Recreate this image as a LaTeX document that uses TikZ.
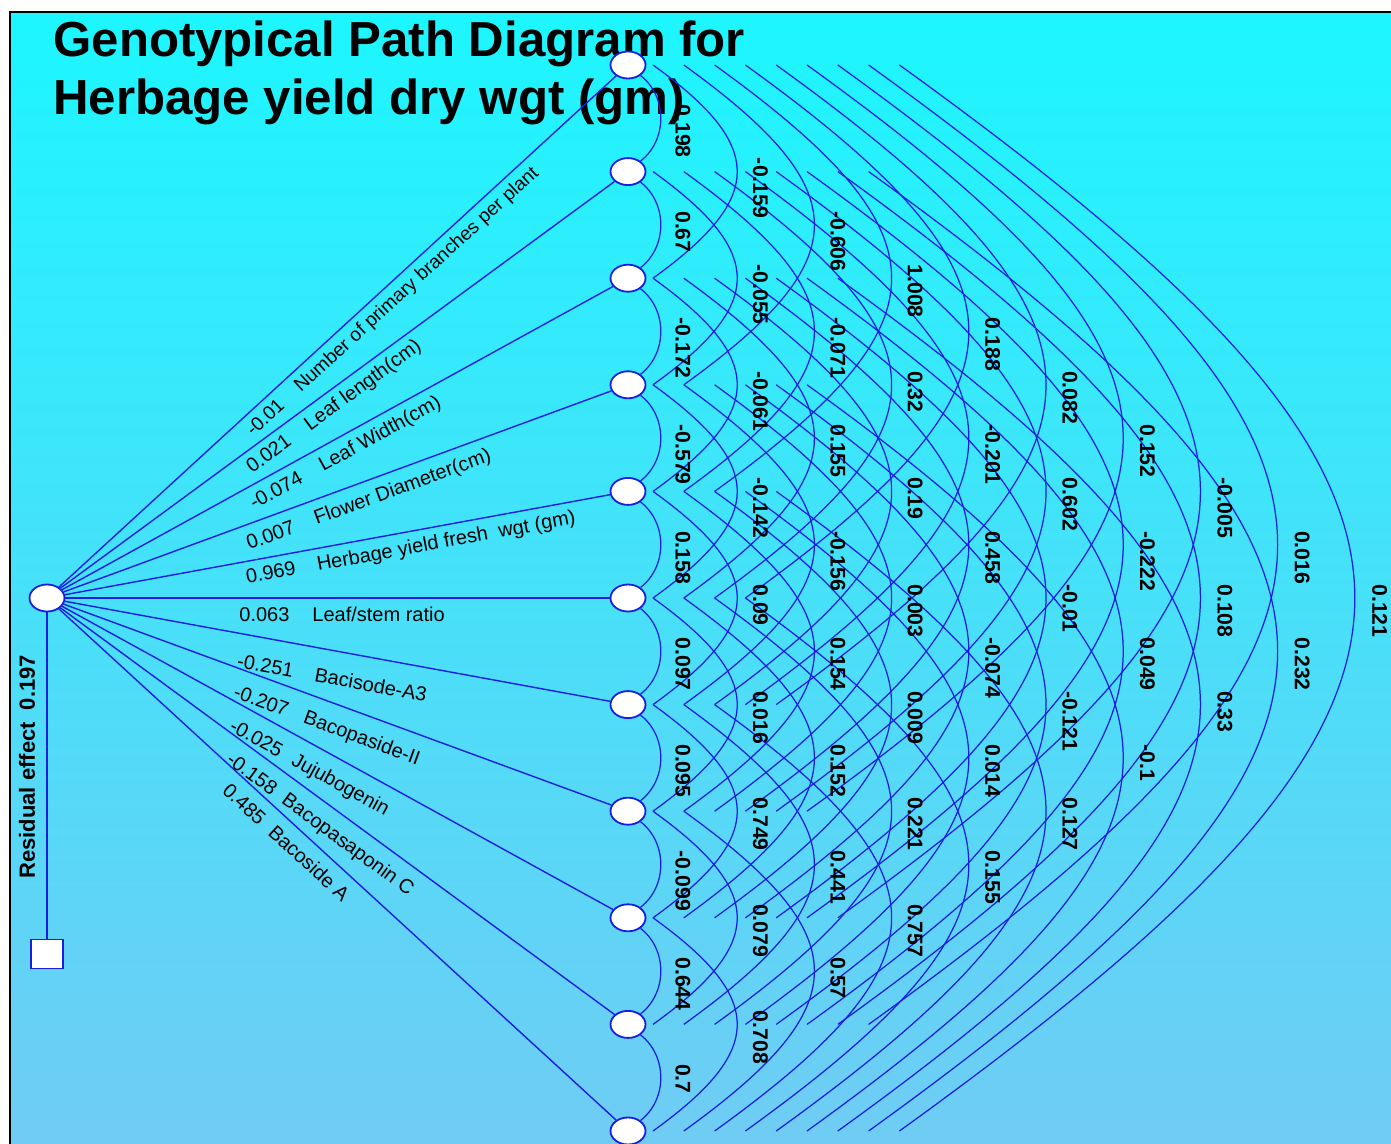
\documentclass[tikz,border=0pt]{standalone}
\usepackage{fontspec}
\setmainfont{Liberation Sans}
\usetikzlibrary{shapes.geometric}
\definecolor{lineblue}{RGB}{22,30,225}
\definecolor{bgtop}{RGB}{28,246,255}
\definecolor{bgmid}{RGB}{60,208,248}
\definecolor{bgbot}{RGB}{112,204,244}
\pgfdeclarelayer{back}
\pgfdeclarelayer{mid}
\pgfsetlayers{back,mid,main}
\newcommand\corrcol[2]{%
  \foreach \v [count=\i] in {#2} {%
    \node[corr] (c-#1-\i) at ({683+77.4*(#1-1)},{65+106.6*(\i-1)+53.3*#1-14}) {\v};
  }%
}
\begin{document}
\begin{tikzpicture}[x=0.5pt,y=-0.5pt,
  ell/.style={ellipse, draw=lineblue, line width=0.9pt, fill=white, minimum width=17.5pt, minimum height=13.5pt, inner sep=0pt},
  sq/.style={rectangle, draw=lineblue, line width=0.9pt, fill=white, minimum width=16pt, minimum height=14.5pt, inner sep=0pt},
  fan/.style={draw=lineblue, line width=0.7pt},
  arcline/.style={draw=lineblue, line width=0.62pt},
  corr/.style={font=\bfseries\fontsize{10.6}{12}\selectfont, rotate=-90, anchor=west, inner sep=0pt},
  lab/.style={font=\fontsize{10}{12}\selectfont, anchor=base west, inner sep=0pt},
  ttl/.style={font=\bfseries\fontsize{24.6}{29}\selectfont, anchor=base west, inner sep=0pt}]

\useasboundingbox (0,0) rectangle (1391,1144);

% nodes
\foreach \k in {1,...,11} \node[ell] (E\k) at (628,{65+106.6*(\k-1)}) {};
\node[ell] (L) at (47,598) {};
\node[sq] (R) at (47,954) {};

% free ends of the correlation arcs
\foreach \k in {1,...,11} {
  \foreach \d in {2,...,10} {
    \coordinate (P-\k-\d) at ({653+30.8*(\d-2)},{65+106.6*(\k-1)});
  }
}

% direct effect labels
\node[lab, rotate=42.5, font=\fontsize{9.6}{12}\selectfont] (n1) at (253,437) {-0.01\hspace{1.1em}Number of primary branches per plant};
\node[lab, rotate=36.3]  (n2)  at (252,474) {0.021\hspace{1.1em}Leaf length(cm)};
\node[lab, rotate=28.8]  (n3)  at (254,510) {-0.074\hspace{1.1em}Leaf Width(cm)};
\node[lab, rotate=20.2]  (n4)  at (249,550) {0.007\hspace{1.1em}Flower Diameter(cm)};
\node[lab, rotate=10.4]  (n5)  at (247,584) {0.969\hspace{1.1em}Herbage yield fresh\ \ wgt (gm)};
\node[lab]               (n6)  at (239,621) {0.063\hspace{1.15em}Leaf/stem ratio};
\node[lab, rotate=-10.4] (n7)  at (236,667) {-0.251\hspace{1.1em}Bacisode-A3};
\node[lab, rotate=-20.2] (n8)  at (232,697) {-0.207\hspace{0.9em}Bacopaside-II};
\node[lab, rotate=-28.8] (n9)  at (228,730) {-0.025\hspace{0.7em}Jujubogenin};
\node[lab, rotate=-36.3] (n10) at (225,762) {-0.158\hspace{0.6em}Bacopasaponin C};
\node[lab, rotate=-42.5] (n11) at (221,792) {0.485\hspace{0.6em}Bacoside A};

\node[font=\bfseries\fontsize{11}{13}\selectfont, rotate=90, anchor=west, inner sep=0pt] (res) at (27,879) {Residual effect\hspace{0.55em}0.197};

% correlation labels
\corrcol{1}{0.198,0.67,-0.172,-0.579,0.158,0.097,0.095,-0.099,0.644,0.7}
\corrcol{2}{-0.159,-0.055,-0.061,-0.142,0.09,0.016,0.749,0.079,0.708}
\corrcol{3}{-0.606,-0.071,0.155,-0.156,0.154,0.152,0.441,0.57}
\corrcol{4}{1.008,0.32,0.19,0.003,0.009,0.221,0.757}
\corrcol{5}{0.188,-0.201,0.458,-0.074,0.014,0.155}
\corrcol{6}{0.082,0.602,-0.01,-0.121,0.127}
\corrcol{7}{0.152,-0.222,0.049,-0.1}
\corrcol{8}{-0.005,0.108,0.33}
\corrcol{9}{0.016,0.232}
\corrcol{10}{0.121}

\begin{pgfonlayer}{back}
  \fill[white] (0,0) rectangle (1391,1144);
  \shade[top color=bgtop, middle color=bgmid, bottom color=bgbot] (10,12) rectangle (1391,1144);
  \draw[black, line width=1pt] (10,1144) -- (10,12) -- (1391,12);
  \node[ttl] (t1) at (53,57) {Genotypical Path Diagram for};
  \node[ttl] (t2) at (53,115) {Herbage yield dry wgt (gm)};
\end{pgfonlayer}

\begin{pgfonlayer}{mid}
  \foreach \k in {1,...,11} \draw[fan] (L) -- (E\k);
  \draw[fan] (L) -- (R);
  % adjacent arcs
  \foreach \i in {1,...,10} {
    \pgfmathtruncatemacro\j{\i+1}
    \draw[arcline] (E\i.-40) .. controls +(27,21) and +(27,-21) .. (E\j.40);
  }
  % longer arcs
  \foreach \d in {2,...,10} {
    \pgfmathsetmacro\xs{653+30.8*(\d-2)}
    \pgfmathsetmacro\ap{660+77.2*(\d-1)}
    \pgfmathsetmacro\ca{(\ap-\xs)/0.75}
    \pgfmathsetmacro\cb{0.72*\ca}
    \pgfmathtruncatemacro\last{11-\d}
    \foreach \i in {1,...,\last} {
      \pgfmathtruncatemacro\j{\i+\d}
      \draw[arcline] (P-\i-\d) .. controls +(\ca,\cb) and +(\ca,-\cb) .. (P-\j-\d);
    }
  }
\end{pgfonlayer}
\end{tikzpicture}
\end{document}
